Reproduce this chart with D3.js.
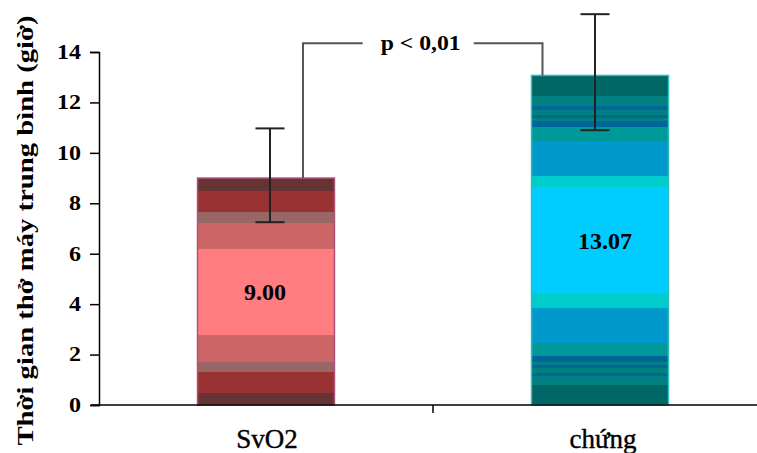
<!DOCTYPE html>
<html>
<head>
<meta charset="utf-8">
<script src="https://cdn.jsdelivr.net/npm/d3@7"></script>
<style>
  body { margin: 0; background: #fff; }
  svg { display: block; font-family: "Liberation Serif", "DejaVu Serif", serif; }
</style>
</head>
<body>
<div id="chart"></div>
<script>
// data
var categories = ['SvO2', 'chứng'];
var means = [9.00, 13.07];
var errLow = [7.25, 10.9];
var errHigh = [10.97, 15.5];
var meanLabels = ['9.00', '13.07'];
var yTicks = [0, 2, 4, 6, 8, 10, 12, 14];
var yTitle = 'Thời gian thở máy trung bình (giờ)';
var pText = 'p < 0,01';
var pLevel = 14.35;

// banded fills (Excel style gradient), top -> bottom as [offset, colour]
var bands = [
    [[0, '#663333'], [0.059, '#993333'], [0.151, '#996666'], [0.196, '#cc6666'],
     [0.313, '#ff7c80'], [0.691, '#cc6666'], [0.809, '#996666'], [0.853, '#993333'],
     [0.946, '#663333']],
    [[0, '#006666'], [0.062, '#008080'], [0.094, '#006699'], [0.104, '#008080'],
     [0.119, '#006699'], [0.129, '#008080'], [0.138, '#006699'], [0.155, '#009999'],
     [0.198, '#0099cc'], [0.305, '#00cccc'], [0.340, '#00ccff'], [0.664, '#00cccc'],
     [0.707, '#0099cc'], [0.813, '#009999'], [0.851, '#006699'], [0.869, '#008080'],
     [0.879, '#006699'], [0.889, '#008080'], [0.902, '#006699'], [0.913, '#008080'],
     [0.940, '#006666']]
];
var borders = ['#b0507a', '#33bbbb'];
var errShift = [4, -5];

var W = 757, H = 453;
var margin = {top: 52, left: 99, bottom: 48};

var svg = d3.select('#chart').append('svg')
    .attr('width', W)
    .attr('height', H);

var x = d3.scaleBand()
    .domain(categories)
    .range([margin.left, margin.left + 668])
    .paddingInner(0.59)
    .paddingOuter(0.295);

var y = d3.scaleLinear()
    .domain([0, 14])
    .range([H - margin.bottom, margin.top]);

// gradients with hard stops
var defs = svg.append('defs');
bands.forEach(function(b, i) {
    var g = defs.append('linearGradient')
        .attr('id', 'band' + i)
        .attr('x1', 0).attr('y1', 0).attr('x2', 0).attr('y2', 1);
    b.forEach(function(s, j) {
        var end = j < b.length - 1 ? b[j + 1][0] : 1;
        g.append('stop').attr('offset', s[0]).attr('stop-color', s[1]);
        g.append('stop').attr('offset', end).attr('stop-color', s[1]);
    });
});

// bars
svg.selectAll('.bar')
    .data(means)
    .enter().append('rect')
    .attr('class', 'bar')
    .attr('x', function(d, i) { return x(categories[i]); })
    .attr('y', function(d) { return y(d); })
    .attr('width', x.bandwidth())
    .attr('height', function(d) { return y(0) - y(d); })
    .attr('fill', function(d, i) { return 'url(#band' + i + ')'; })
    .attr('stroke', function(d, i) { return borders[i]; })
    .attr('stroke-width', 1.5);

// value labels
svg.selectAll('.val')
    .data(means)
    .enter().append('text')
    .attr('x', function(d, i) { return x(categories[i]) + x.bandwidth() / 2 + (i ? 5 : -1); })
    .attr('y', function(d) { return (y(d) + y(0)) / 2; })
    .attr('dy', '0.35em')
    .attr('text-anchor', 'middle')
    .style('font-weight', 'bold')
    .style('font-size', '24px')
    .text(function(d, i) { return meanLabels[i]; });

// error bars
var cx = function(i) { return x(categories[i]) + x.bandwidth() / 2 + errShift[i]; };
var err = svg.append('g').attr('stroke', '#222').attr('stroke-width', 2);
means.forEach(function(d, i) {
    err.append('line')
        .attr('x1', cx(i)).attr('x2', cx(i))
        .attr('y1', y(errLow[i])).attr('y2', y(errHigh[i]));
    [errLow[i], errHigh[i]].forEach(function(v) {
        err.append('line')
            .attr('x1', cx(i) - 14.5).attr('x2', cx(i) + 14.5)
            .attr('y1', y(v)).attr('y2', y(v));
    });
});

// significance bracket
var bx1 = x(categories[0]) + x.bandwidth() * 0.77;
var bx2 = x(categories[1]) + x.bandwidth() * 0.08;
var pMid = (bx1 + bx2) / 2 - 2;
var br = svg.append('g').attr('stroke', '#555').attr('stroke-width', 2).attr('fill', 'none');
br.append('path')
    .attr('d', 'M' + bx1 + ',' + y(means[0]) + 'V' + y(pLevel) + 'H' + (pMid - 58));
br.append('path')
    .attr('d', 'M' + (pMid + 53) + ',' + y(pLevel) + 'H' + bx2 + 'V' + y(means[1]));
svg.append('text')
    .attr('x', pMid)
    .attr('y', y(pLevel))
    .attr('dy', '0.35em')
    .attr('text-anchor', 'middle')
    .style('font-weight', 'bold')
    .style('font-size', '20px')
    .attr('textLength', 80)
    .attr('lengthAdjust', 'spacingAndGlyphs')
    .text(pText);

// y axis
var yAxis = svg.append('g')
    .attr('transform', 'translate(' + margin.left + ',0)')
    .call(d3.axisLeft(y).tickValues(yTicks).tickSize(9).tickPadding(9));
yAxis.select('.domain').attr('stroke', '#000').attr('stroke-width', 1.5);
yAxis.selectAll('.tick line').attr('stroke', '#000').attr('stroke-width', 1.5);
yAxis.selectAll('text')
    .style('font-family', '"Liberation Serif", serif')
    .style('font-weight', 'bold')
    .style('font-size', '20px')
    .attr('fill', '#000')
    .attr('textLength', function(d) { return String(d).length * 12; })
    .attr('lengthAdjust', 'spacingAndGlyphs');

// x axis
var xAxis = svg.append('g')
    .attr('transform', 'translate(0,' + y(0) + ')');
xAxis.append('line')
    .attr('x1', margin.left - 8).attr('x2', W)
    .attr('stroke', '#000').attr('stroke-width', 1.5);
var boundary = x(categories[1]) - x.step() * x.paddingInner() / 2;
xAxis.append('line')
    .attr('x1', boundary).attr('x2', boundary)
    .attr('y1', 0).attr('y2', 8)
    .attr('stroke', '#000').attr('stroke-width', 1.5);
xAxis.selectAll('.cat')
    .data(categories)
    .enter().append('text')
    .attr('x', function(d, i) { return x(d) + x.bandwidth() / 2 + (i ? 3 : 1); })
    .attr('y', 43)
    .attr('text-anchor', 'middle')
    .style('font-size', '27px')
    .style('stroke', '#000')
    .style('stroke-width', 0.4)
    .text(function(d) { return d; });

// y title
svg.append('text')
    .attr('transform', 'translate(33,' + ((y(0) + y(14)) / 2 + 2) + ') rotate(-90)')
    .attr('text-anchor', 'middle')
    .style('font-weight', 'bold')
    .style('font-size', '24px')
    .attr('textLength', 430)
    .attr('lengthAdjust', 'spacingAndGlyphs')
    .text(yTitle);
</script>
</body>
</html>
